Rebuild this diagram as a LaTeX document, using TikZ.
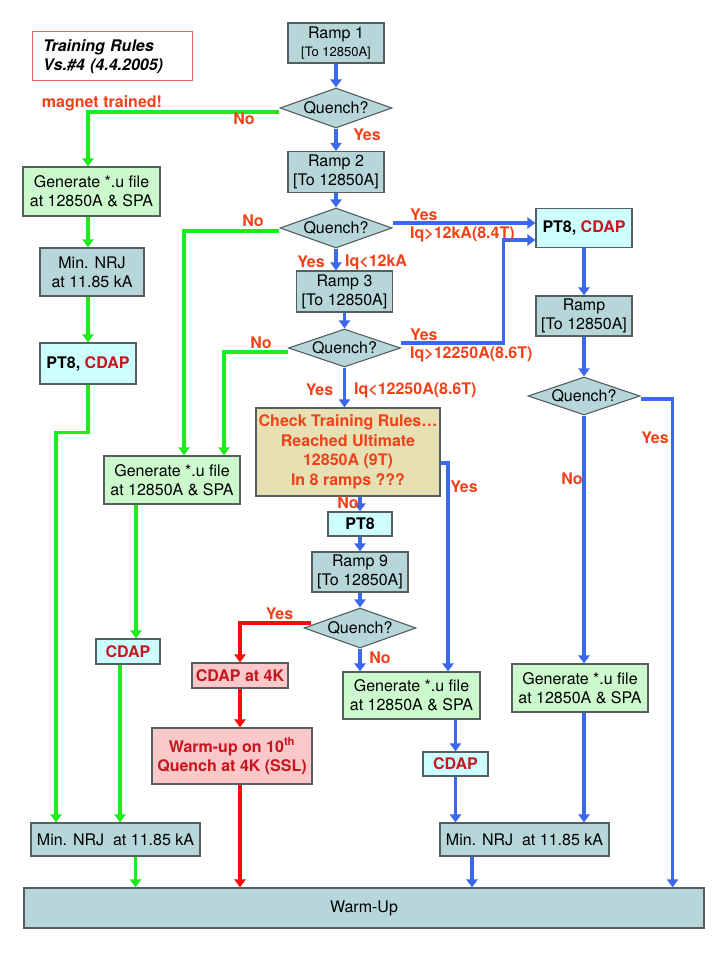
\documentclass[tikz,border=0pt]{standalone}
\usepackage{fontspec}
\setmainfont{TeX Gyre Heros}
\usepackage{tikz}
\usetikzlibrary{arrows.meta, shapes.geometric, calc}
\definecolor{rampblue}{RGB}{182,214,218}
\definecolor{ptcyan}{RGB}{206,255,255}
\definecolor{gengreen}{RGB}{204,250,204}
\definecolor{hotpink}{RGB}{250,200,200}
\definecolor{checktan}{RGB}{230,224,178}
\definecolor{edgegray}{RGB}{85,95,95}
\definecolor{lblred}{RGB}{240,65,25}
\definecolor{cdapred}{RGB}{200,20,30}
\definecolor{titlered}{RGB}{230,95,95}
\definecolor{flowblue}{RGB}{60,105,235}
\definecolor{flowgreen}{RGB}{30,235,30}
\definecolor{flowred}{RGB}{250,10,10}

\begin{document}
\begin{tikzpicture}[x=1pt, y=-1pt,
    every node/.style={font=\fontsize{16}{19}\selectfont},
    box/.style={rectangle, draw=edgegray, line width=1.1pt, align=center, inner sep=1pt},
    ramp/.style={box, fill=rampblue, minimum width=96pt, minimum height=40pt},
    quench/.style={diamond, draw=edgegray, line width=1.1pt, fill=rampblue, aspect=2.8, inner sep=0pt, minimum width=112pt, minimum height=40pt},
    ptbox/.style={box, fill=ptcyan, font=\fontsize{16}{19}\selectfont\bfseries},
    genbox/.style={box, fill=gengreen, minimum width=137pt, minimum height=48pt},
    hotbox/.style={box, fill=hotpink, text=cdapred, font=\fontsize{16}{19}\selectfont\bfseries},
    lbl/.style={text=lblred, font=\fontsize{16}{19}\selectfont\bfseries, inner sep=0pt},
    barr/.style={-{Triangle[length=8pt,width=11pt]}, line width=3.2pt, flowblue},
    garr/.style={-{Triangle[length=8pt,width=11pt]}, line width=3.2pt, flowgreen},
    rarr/.style={-{Triangle[length=8pt,width=11pt]}, line width=3.2pt, flowred}]
  \useasboundingbox (0,0) rectangle (720,960);

  % title
  \node[draw=titlered, line width=1pt, text width=138pt, inner xsep=11pt, minimum height=49pt, align=left,
        font=\fontsize{16}{19}\selectfont\bfseries\itshape] (title) at (112,56.5) {Training Rules\\Vs.\#4 (4.4.2005)};

  % main column
  \node[ramp] (r1) at (336,43) {Ramp 1\\[-1pt]{\fontsize{13}{15}\selectfont[To 12850A]}};
  \node[quench] (q1) at (336,108) {Quench?};
  \node[ramp, minimum height=41pt] (r2) at (336,172) {Ramp 2\\{}[To 12850A]};
  \node[quench] (q2) at (336,228) {Quench?};
  \node[ramp, minimum height=41pt] (r3) at (344.5,291.5) {Ramp 3\\{}[To 12850A]};
  \node[quench, minimum height=38pt] (q3) at (344.5,348) {Quench?};
  \node[box, fill=checktan, text=lblred, minimum width=184pt, minimum height=88pt,
        font=\fontsize{16}{19.5}\selectfont\bfseries] (chk) at (348,452)
        {Check Training Rules\ldots\\Reached Ultimate\\12850A (9T)\\In 8 ramps ???};
  \node[ptbox, minimum width=64pt, minimum height=24pt] (pt8M) at (360,524) {PT8};
  \node[ramp] (r9) at (360,572) {Ramp 9\\{}[To 12850A]};
  \node[quench] (q5) at (360,628) {Quench?};
  \node[genbox, minimum height=47pt] (gm) at (411.5,695.5) {Generate *.u file\\at 12850A \& SPA};
  \node[ptbox, text=cdapred, minimum width=65pt, minimum height=24pt] (cdm) at (455.5,764) {CDAP};
  \node[hotbox, minimum width=96pt, minimum height=25pt] (c4k) at (240,675.5) {CDAP at 4K};
  \node[hotbox, minimum width=160pt, minimum height=56pt] (wu10) at (232,756) {Warm-up on 10\textsuperscript{th}\\Quench at 4K (SSL)};

  % left columns
  \node[genbox, minimum height=49pt] (genL) at (91.5,191.5) {Generate *.u file\\at 12850A \& SPA};
  \node[box, fill=rampblue, minimum width=104pt, minimum height=48pt] (mn1) at (92,272) {Min. NRJ\\at 11.85 kA};
  \node[ptbox, minimum width=96pt, minimum height=41pt] (pt8L) at (88,363.5) {PT8, \textcolor{cdapred}{CDAP}};
  \node[genbox, minimum width=136pt] (gen2) at (172,480) {Generate *.u file\\at 12850A \& SPA};
  \node[ptbox, text=cdapred, minimum width=64pt, minimum height=25pt] (cdL) at (128,651.5) {CDAP};

  % right column
  \node[ptbox, minimum width=96pt, minimum height=39pt] (pt8R) at (584,228) {PT8, \textcolor{cdapred}{CDAP}};
  \node[ramp] (rR) at (584,316) {Ramp\\{}[To 12850A]};
  \node[quench, minimum height=38pt] (q4) at (584,396) {Quench?};
  \node[genbox, minimum width=136pt] (genR) at (580,688) {Generate *.u file\\at 12850A \& SPA};

  % bottom
  \node[box, fill=rampblue, minimum width=169pt, minimum height=33pt] (mnL) at (115.5,839.5) {Min. NRJ \ at 11.85 kA};
  \node[box, fill=rampblue, minimum width=169pt, minimum height=33pt] (mnR) at (524.5,839.5) {Min. NRJ \ at 11.85 kA};
  \node[box, fill=rampblue, minimum width=680pt, minimum height=40pt] (warm) at (364,908) {Warm-Up};

  % blue flow
  \draw[barr] (r1) -- (q1);
  \draw[barr] (q1) -- (r2);
  \draw[barr] (r2) -- (q2);
  \draw[barr] ([yshift=5]q2.east) -- ([yshift=5]pt8R.west);
  \draw[barr] (q2.south) -- (q2.south |- r3.north);
  \draw[barr] (r3) -- (q3);
  \draw[barr] ([yshift=5]q3.east) -| ([xshift=-32,yshift=-12]pt8R.west) -- ([yshift=-12]pt8R.west);
  \draw[barr] (q3.south) -- (q3.south |- chk.north);
  \draw[barr] (pt8M.north |- chk.south) -- (pt8M.north);
  \draw[barr] ([yshift=-11]chk.east) -| ([xshift=36.5]gm.north);
  \draw[barr] (pt8M) -- (r9);
  \draw[barr] (r9) -- (q5);
  \draw[barr] (q5.south) -- (q5.south |- gm.north);
  \draw[barr] (cdm.north |- gm.south) -- (cdm.north);
  \draw[barr] (cdm.south) -- (cdm.south |- mnR.north);
  \draw[barr] ($(mnR.south)+(-52.5,0)$) -- ($(mnR.south |- warm.north)+(-52.5,0)$);
  \draw[barr] (pt8R) -- (rR);
  \draw[barr] (rR) -- (q4);
  \draw[barr] (q4.south) -- (q4.south |- genR.north);
  \draw[barr] (q4.south |- genR.south) -- (q4.south |- mnR.north);
  \draw[barr] ([yshift=-3]q4.east) -| ([xshift=-32]warm.north east);

  % green flow
  \draw[garr] ([yshift=-4]q1.west) -| ([xshift=-3.5]genL.north);
  \draw[garr] (pt8L.north |- genL.south) -- (pt8L.north |- mn1.north);
  \draw[garr] (pt8L.north |- mn1.south) -- (pt8L.north);
  \draw[garr] (pt8L.south) -- ++(0,48) -| ([xshift=-59.5]mnL.north);
  \draw[garr] ([yshift=-3]q2.west) -| ([xshift=12]gen2.north);
  \draw[garr] ([yshift=-4]q3.west) -| ([xshift=52]gen2.north);
  \draw[garr] ([xshift=-36]gen2.south) -- ([xshift=8]cdL.north);
  \draw[garr] ([xshift=-8]cdL.south) -- ([xshift=4.5]mnL.north);
  \draw[garr] ($(mnL.south)+(20,0)$) -- ($(mnL.south |- warm.north)+(20,0)$);

  % red flow
  \draw[rarr] ([xshift=8,yshift=5]q5.west) -| (c4k.north);
  \draw[rarr] (c4k.south) -- (c4k.south |- wu10.north);
  \draw[rarr] (c4k.south |- wu10.south) -- (c4k.south |- warm.north);

  % labels
  \node[lbl] (lmag) at (102,103) {magnet trained!};
  \node[lbl] (lno1) at (244,119) {No};
  \node[lbl] (lyes1) at (367,135) {Yes};
  \node[lbl] (lno2) at (253,221) {No};
  \node[lbl, anchor=west] (lyes2) at (410,215) {Yes};
  \node[lbl, anchor=west] (liq2) at (410,234) {Iq>12kA(8.4T)};
  \node[lbl] (lyes2b) at (311,262) {Yes};
  \node[lbl, anchor=west] (liq2b) at (345,262) {Iq<12kA};
  \node[lbl] (lno3) at (261,343) {No};
  \node[lbl, anchor=west] (lyes3) at (410,335) {Yes};
  \node[lbl, anchor=west] (liq3) at (410,354) {Iq>12250A(8.6T)};
  \node[lbl] (lyes3b) at (319.5,390) {Yes};
  \node[lbl, anchor=west] (liq3b) at (354,390) {Iq<12250A(8.6T)};
  \node[lbl] (lyesc) at (464,487) {Yes};
  \node[lbl] (lnoc) at (348,503) {No};
  \node[lbl] (lyes5) at (279.5,614) {Yes};
  \node[lbl] (lno5) at (380,658) {No};
  \node[lbl] (lyes4) at (655,438) {Yes};
  \node[lbl] (lno4) at (572,479) {No};
\end{tikzpicture}
\end{document}
